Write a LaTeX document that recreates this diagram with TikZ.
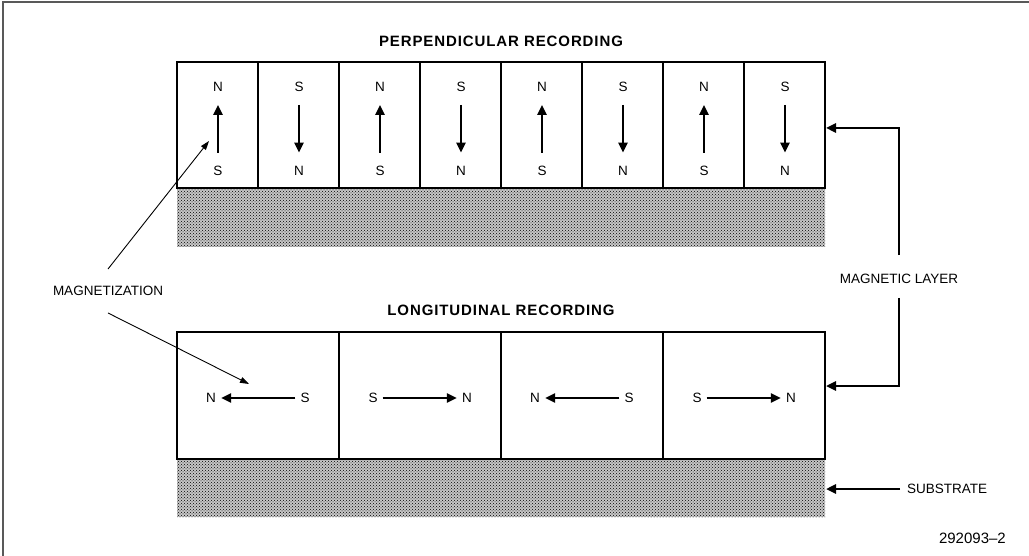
\documentclass[tikz,border=0pt]{standalone}
\usepackage{fontspec}
\setmainfont{Liberation Sans}
\newfontfamily\ttlfont[LetterSpace=6]{Liberation Sans}
\usetikzlibrary{calc, patterns, arrows.meta}

\begin{document}
\begin{tikzpicture}
      [x=1pt,y=-1pt
      ,txt/.style={font=\fontsize{13.5}{14}\selectfont,inner sep=1}
      ,ttl/.style={font=\ttlfont\bfseries\fontsize{15}{16}\selectfont,inner sep=0}
      ,cel/.style={draw,line width=1.7}
      ,sub/.style={preaction={fill=gray!45},pattern=crosshatch dots}
      ,mag/.style={line width=2.2,-{Triangle[length=10,width=9]},shorten <=12,shorten >=12}
      ,lon/.style={line width=2.2,-{Triangle[length=10,width=9]},shorten <=4,shorten >=4}
      ,ptr/.style={line width=.9,-{Triangle[length=9,width=6]}}
      ,lay/.style={line width=2.4,-{Triangle[length=10,width=9]}}]
        \useasboundingbox (0,0) rectangle (1029,556);
        \draw[gray!70!black,line width=1.2] (3,556) -- (3,2) -- (1029,2);
        \coordinate (P0) at (177,62);
        \coordinate (L0) at (177,332);
        \fill[sub] (177,188) rectangle (825,247);
        \fill[sub] (177,459) rectangle (825,517);
        \node[ttl] (pt) at (501,41) {PERPENDICULAR RECORDING};
        \node[ttl] (lt) at (501,310.5) {LONGITUDINAL RECORDING};
        \foreach \i in {0,...,7}{
          \draw[cel] ($ (P0)+(81*\i,0) $) rectangle +(81,126);
        }
        \foreach \i in {0,...,3}{
          \draw[cel] ($ (L0)+(162*\i,0) $) rectangle +(162,127);
        }
        \foreach \i in {0,2,4,6}{
          \node[txt] (n\i) at ($ (P0)+(81*\i+41,25) $) {N};
          \node[txt] (s\i) at ($ (P0)+(81*\i+41,108.5) $) {S};
          \draw[mag] (s\i) -- (n\i);
        }
        \foreach \i in {1,3,5,7}{
          \node[txt] (s\i) at ($ (P0)+(81*\i+41,25) $) {S};
          \node[txt] (n\i) at ($ (P0)+(81*\i+41,108.5) $) {N};
          \draw[mag] (s\i) -- (n\i);
        }
        \foreach \i in {0,2}{
          \node[txt] (ln\i) at ($ (L0)+(162*\i+34,66) $) {N};
          \node[txt] (ls\i) at ($ (L0)+(162*\i+128,66) $) {S};
          \draw[lon] (ls\i) -- (ln\i);
        }
        \foreach \i in {1,3}{
          \node[txt] (ls\i) at ($ (L0)+(162*\i+34,66) $) {S};
          \node[txt] (ln\i) at ($ (L0)+(162*\i+128,66) $) {N};
          \draw[lon] (ls\i) -- (ln\i);
        }
        \node[txt,inner ysep=17] (mz) at (108,291) {MAGNETIZATION};
        \coordinate (m1) at (209,141);
        \coordinate (m2) at (249,384);
        \draw[ptr] (mz.north) -- (m1);
        \draw[ptr] (mz.south) -- (m2);
        \node[txt,inner ysep=14] (ml) at (899,279) {MAGNETIC LAYER};
        \coordinate (mt) at (826,128);
        \coordinate (mb) at (826,386);
        \draw[lay,shorten <=5] (ml.north) |- (mt);
        \draw[lay] (ml.south) |- (mb);
        \node[txt,anchor=west,inner xsep=7] (sb) at (900,489) {SUBSTRATE};
        \coordinate (sm) at (826,489);
        \draw[lay] (sb) -- (sm);
        \node[txt,font=\fontsize{15}{16}\selectfont,anchor=east] (fn) at (1007,538) {292093--2};
      \end{tikzpicture}
\end{document}
